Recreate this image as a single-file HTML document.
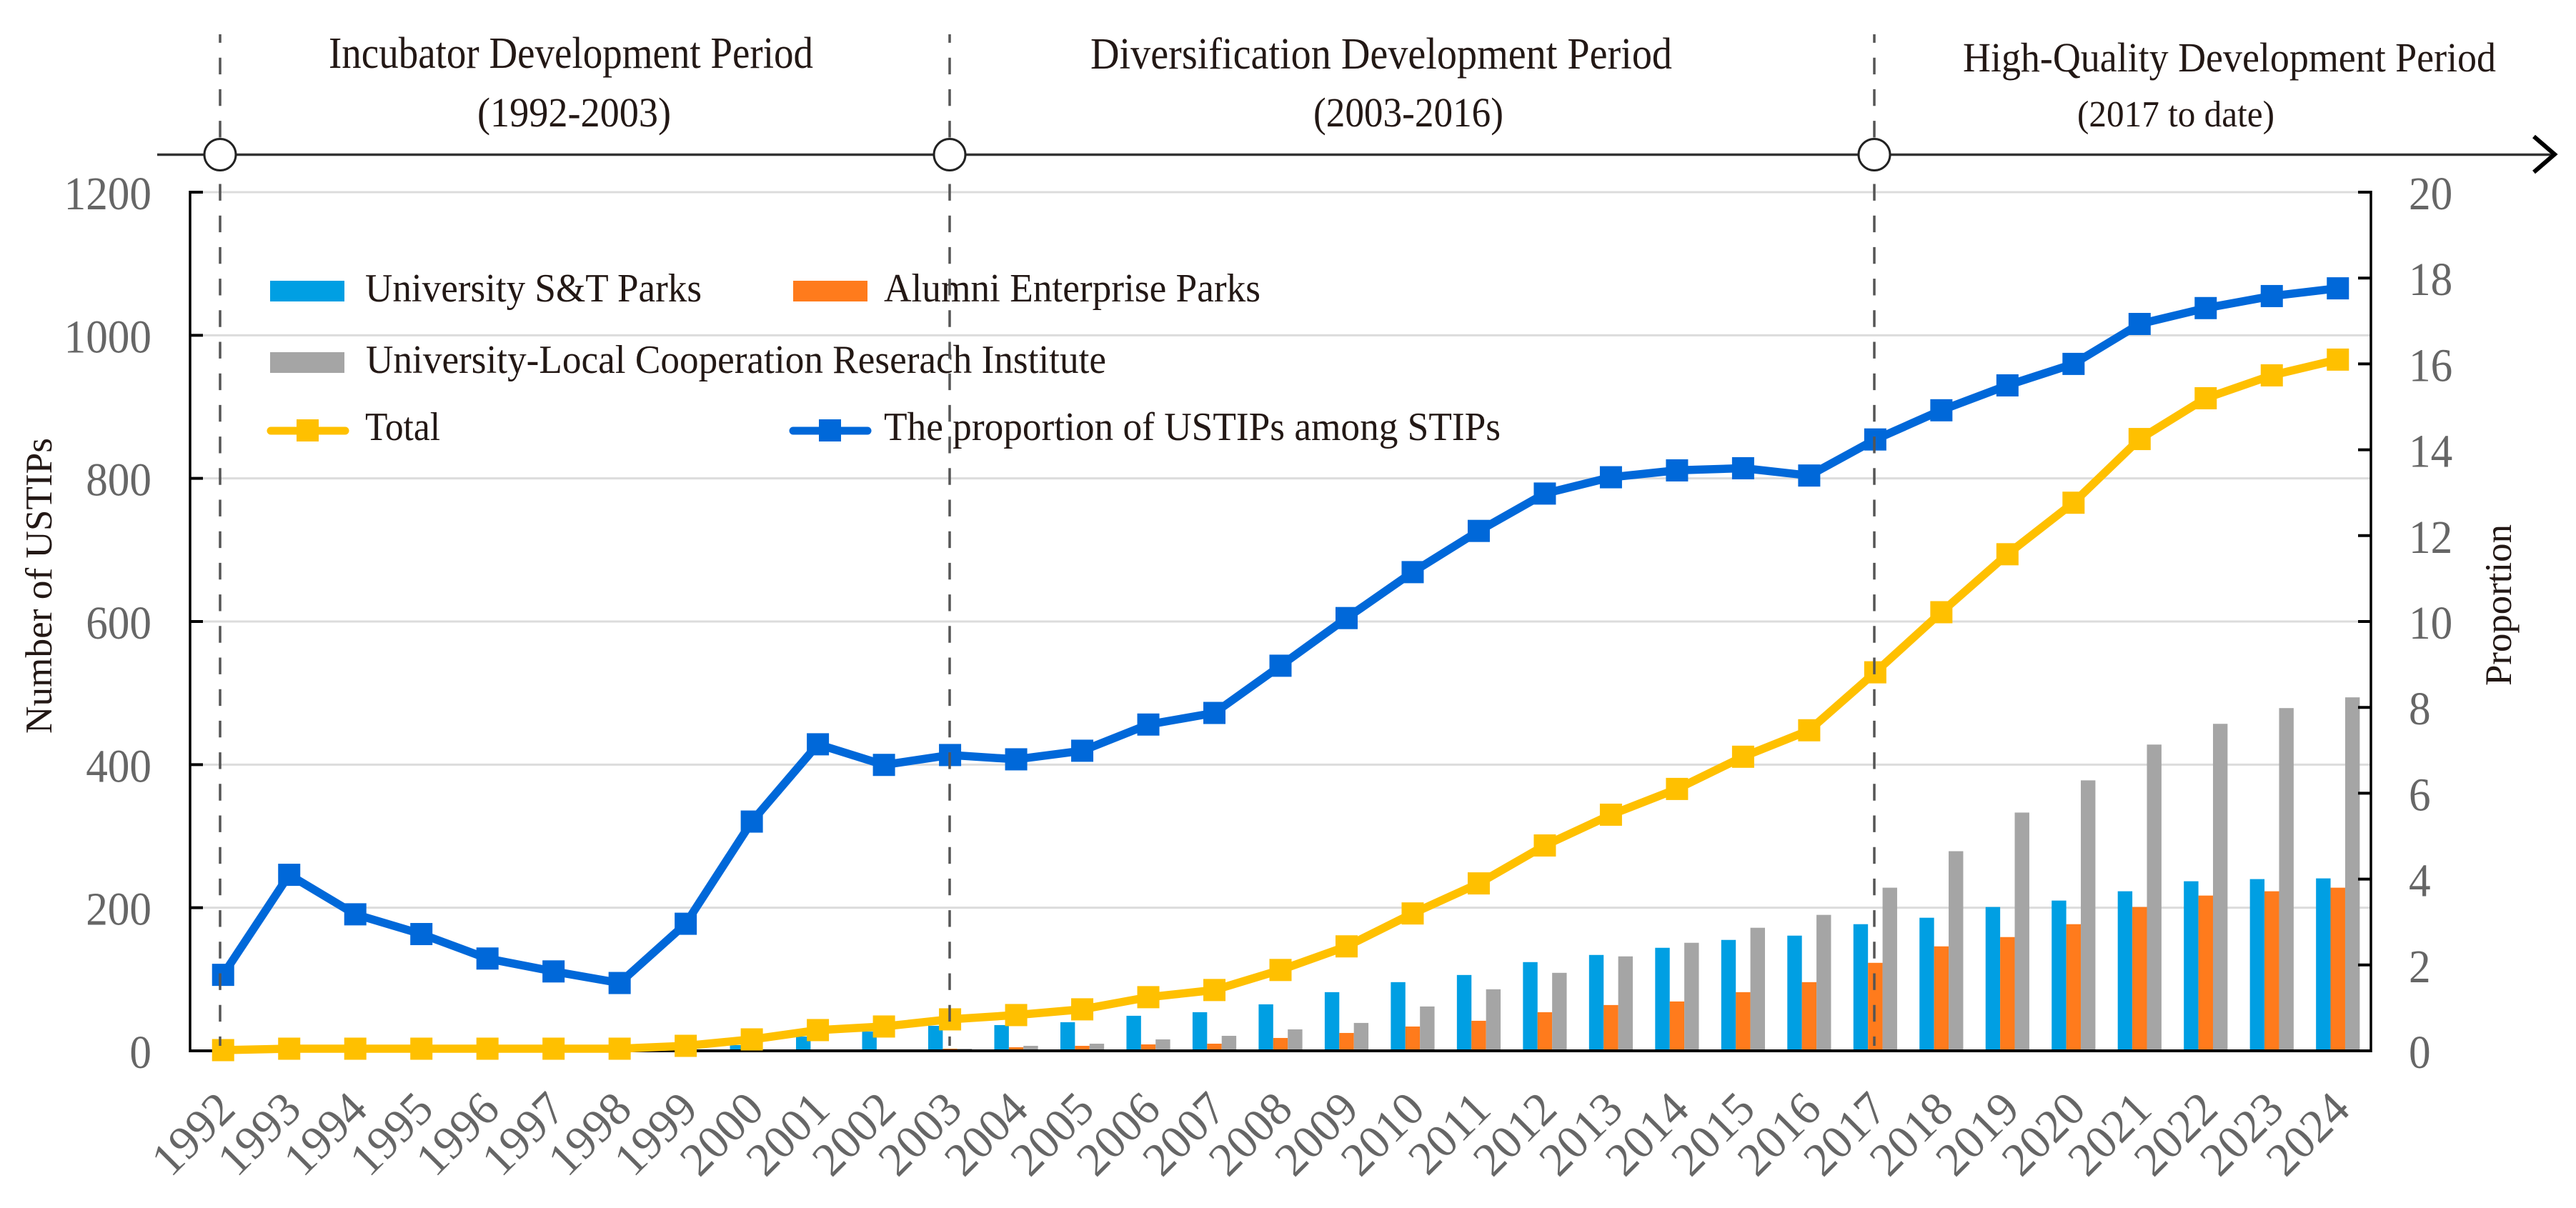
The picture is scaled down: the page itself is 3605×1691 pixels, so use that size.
<!DOCTYPE html>
<html lang="en">
<head>
<meta charset="utf-8">
<title>Number of USTIPs and proportion among STIPs, 1992-2024</title>
<style>
  html, body { margin: 0; padding: 0; background: #fff; }
  svg { display: block; }
  text { font-family: "Liberation Serif", "Noto Serif CJK SC", serif; }
  .period { font-size: 62px; fill: #231815; }
  .period-sub { font-size: 58px; fill: #231815; }
  .legend-text { font-size: 56px; fill: #231815; }
  .axis-title { font-size: 53px; fill: #231815; }
  .tick { font-size: 66px; fill: #666; }
</style>
</head>
<body>
<svg id="chart" xmlns="http://www.w3.org/2000/svg" width="3605" height="1691" viewBox="0 0 3605 1691">
  <rect x="0" y="0" width="3605" height="1691" fill="#fff"/>
  <g id="grid"></g>
  <g id="bars"></g>
  <g id="axes"></g>
  <g id="lines"></g>

  <g>
    <rect x="378" y="393" width="104" height="29" fill="#009fe3"/>
    <text class="legend-text" x="511" y="422" textLength="471" lengthAdjust="spacingAndGlyphs">University S&amp;T Parks</text>
    <rect x="1110" y="393" width="104" height="29" fill="#ff7b1c"/>
    <text class="legend-text" x="1237" y="422" textLength="527" lengthAdjust="spacingAndGlyphs">Alumni Enterprise Parks</text>
    <rect x="378" y="493" width="104" height="29" fill="#a5a5a5"/>
    <text class="legend-text" x="512" y="522" textLength="1036" lengthAdjust="spacingAndGlyphs">University-Local Cooperation Reserach Institute</text>
    <line x1="379" y1="603" x2="483" y2="603" stroke="#ffc000" stroke-width="11" stroke-linecap="round"/>
    <rect x="415" y="587" width="31" height="31" fill="#ffc000"/>
    <text class="legend-text" x="511" y="616" textLength="105" lengthAdjust="spacingAndGlyphs">Total</text>
    <line x1="1110" y1="603" x2="1214" y2="603" stroke="#0068d9" stroke-width="11" stroke-linecap="round"/>
    <rect x="1146" y="587" width="31" height="31" fill="#0068d9"/>
    <text class="legend-text" x="1237" y="616" textLength="863" lengthAdjust="spacingAndGlyphs">The proportion of USTIPs among STIPs</text>
  </g>

  <g>
    <text class="period" x="460" y="95" textLength="678" lengthAdjust="spacingAndGlyphs">Incubator Development Period</text>
    <text class="period-sub" x="668" y="177" textLength="271" lengthAdjust="spacingAndGlyphs">(1992-2003)</text>
    <text class="period" x="1526" y="96" textLength="814" lengthAdjust="spacingAndGlyphs">Diversification Development Period</text>
    <text class="period-sub" x="1838" y="177" textLength="266" lengthAdjust="spacingAndGlyphs">(2003-2016)</text>
    <text class="period" style="font-size:58px" x="2747" y="100" textLength="746" lengthAdjust="spacingAndGlyphs">High-Quality Development Period</text>
    <text class="period-sub" style="font-size:52px" x="2907" y="177" textLength="276" lengthAdjust="spacingAndGlyphs">(2017 to date)</text>
    <line x1="220" y1="216.5" x2="3574" y2="216.5" stroke="#333" stroke-width="3.5"/>
    <polyline points="3546,191 3575,216 3546,241" fill="none" stroke="#000" stroke-width="6"/>
  </g>

  <text class="axis-title" transform="translate(72,1027) rotate(-90)" textLength="414" lengthAdjust="spacingAndGlyphs">Number of USTIPs</text>
  <text class="axis-title" transform="translate(3514,960) rotate(-90)" textLength="226" lengthAdjust="spacingAndGlyphs">Proportion</text>

  <g>
    <line x1="308" y1="48" x2="308" y2="1464" stroke="#555" stroke-width="3.5" stroke-dasharray="23.4 20.8" stroke-dashoffset="11.5"/>
    <line x1="1329" y1="48" x2="1329" y2="1464" stroke="#555" stroke-width="3.5" stroke-dasharray="23.4 20.8" stroke-dashoffset="11.5"/>
    <line x1="2623" y1="48" x2="2623" y2="1464" stroke="#555" stroke-width="3.5" stroke-dasharray="23.4 20.8" stroke-dashoffset="11.5"/>
  </g>
  <g>
    <circle cx="308" cy="216.5" r="22" fill="#fff" stroke="#222" stroke-width="3"/>
    <circle cx="1329" cy="216.5" r="22" fill="#fff" stroke="#222" stroke-width="3"/>
    <circle cx="2623" cy="216.5" r="22" fill="#fff" stroke="#222" stroke-width="3"/>
  </g>
</svg>

<script>
// Chart data
const years = [1992,1993,1994,1995,1996,1997,1998,1999,2000,2001,2002,2003,2004,2005,2006,2007,2008,2009,2010,2011,2012,2013,2014,2015,2016,2017,2018,2019,2020,2021,2022,2023,2024];
const universityParks = [0,0,0,0,0,0,0,1,8,20,27,35,36,40,49,54,65,82,96,106,124,134,144,155,161,177,186,201,210,223,237,240,241];
const alumniParks = [0,0,0,0,0,0,0,0,0,1,2,3,5,7,9,10,18,25,34,42,54,64,69,82,96,123,146,159,177,201,217,223,228];
const cooperationInstitutes = [0,0,0,0,0,0,0,0,0,0,0,3,7,10,16,21,30,39,62,86,109,132,151,172,190,228,279,333,378,428,457,479,494];
const totalParks = [1,3,3,3,3,3,3,7,16,29,34,44,50,58,75,85,113,146,192,234,287,330,366,411,448,529,613,694,766,855,912,944,966];
const proportionValues = [1.77,4.10,3.18,2.72,2.15,1.85,1.58,2.96,5.34,7.14,6.66,6.89,6.79,6.99,7.60,7.87,8.97,10.08,11.15,12.11,12.98,13.36,13.52,13.57,13.40,14.24,14.92,15.50,16.00,16.93,17.30,17.58,17.76];
const leftTicks = [0,200,400,600,800,1000,1200];
const rightTicks = [0,2,4,6,8,10,12,14,16,18,20];

const NS = 'http://www.w3.org/2000/svg';
const plotLeft = 266, plotRight = 3318, plotTop = 269, plotBottom = 1471;
const leftMax = 1200, rightMax = 20;
const band = (plotRight - plotLeft) / years.length;
const barWidth = 20.4;

function xScale(i) { return plotLeft + (i + 0.5) * band; }
function yLeft(v) { return plotBottom - (v / leftMax) * (plotBottom - plotTop); }
function yRight(v) { return plotBottom - (v / rightMax) * (plotBottom - plotTop); }
function make(tag, parent, attrs) {
  const el = document.createElementNS(NS, tag);
  for (const k in attrs) el.setAttribute(k, attrs[k]);
  parent.appendChild(el);
  return el;
}

const gridG = document.getElementById('grid');
const barsG = document.getElementById('bars');
const axesG = document.getElementById('axes');
const linesG = document.getElementById('lines');

// Gridlines and left axis ticks
leftTicks.forEach(function (t) {
  const y = yLeft(t);
  if (t > 0) {
    const g = make('line', gridG, { x1: plotLeft, x2: plotRight, y1: y, y2: y, stroke: '#dcdcdc', 'stroke-width': 3 });
    
    
    const tk = make('line', axesG, { x1: plotLeft, x2: plotLeft + 18, y1: y, y2: y, stroke: '#000', 'stroke-width': 4 });
    
    
  }
  const txt = String(t);
  const lb = make('text', axesG, { x: 212, y: y + 24, 'text-anchor': 'end', class: 'tick', textLength: txt.length * 30.6, lengthAdjust: 'spacingAndGlyphs' });
  
  
  lb.textContent = txt;
});

// Right axis ticks
rightTicks.forEach(function (t) {
  const y = yRight(t);
  if (t > 0) {
    const tk = make('line', axesG, { x1: plotRight - 18, x2: plotRight, y1: y, y2: y, stroke: '#000', 'stroke-width': 4 });
    
    
  }
  const txt = String(t);
  const lb = make('text', axesG, { x: 3371, y: y + 24, 'text-anchor': 'start', class: 'tick', textLength: txt.length * 30.6, lengthAdjust: 'spacingAndGlyphs' });
  
  
  lb.textContent = txt;
});

// Bars
function drawBars(values, offset, color, key) {
  values.forEach(function (v, i) {
    if (v <= 0) return;
    const top = yLeft(v);
    const r = make('rect', barsG, { x: xScale(i) + offset * barWidth - barWidth / 2, y: top, width: barWidth, height: plotBottom - top, fill: color });
    
    
  });
}
drawBars(universityParks, -1, '#009fe3', 'university-parks');
drawBars(alumniParks, 0, '#ff7b1c', 'alumni-parks');
drawBars(cooperationInstitutes, 1, '#a5a5a5', 'cooperation-institutes');

// Axis lines
const leftAxis = make('line', axesG, { x1: plotLeft, x2: plotLeft, y1: plotTop - 2, y2: plotBottom + 2, stroke: '#000', 'stroke-width': 3.5 });


const rightAxis = make('line', axesG, { x1: plotRight, x2: plotRight, y1: plotTop - 2, y2: plotBottom + 2, stroke: '#000', 'stroke-width': 3.5 });


const bottomAxis = make('line', axesG, { x1: plotLeft, x2: plotRight, y1: plotBottom, y2: plotBottom, stroke: '#000', 'stroke-width': 4 });



// Year labels
years.forEach(function (yr, i) {
  const ex = xScale(i) + 20, ey = 1556;
  const lb = make('text', axesG, { x: 0, y: 0, 'text-anchor': 'end', class: 'tick', transform: 'translate(' + ex + ',' + ey + ') rotate(-45)' });
  
  
  lb.textContent = String(yr);
});

// Lines with square markers
function drawLine(values, scale, color, key) {
  const pts = values.map(function (v, i) { return xScale(i).toFixed(1) + ',' + scale(v).toFixed(1); }).join(' ');
  const pl = make('polyline', linesG, { points: pts, fill: 'none', stroke: color, 'stroke-width': 11.5, 'stroke-linejoin': 'round' });
  
  
  values.forEach(function (v, i) {
    const m = make('rect', linesG, { x: xScale(i) - 15.5, y: scale(v) - 15.5, width: 31, height: 31, fill: color });
    
    
  });
}
drawLine(totalParks, yLeft, '#ffc000', 'total');
drawLine(proportionValues, yRight, '#0068d9', 'proportion');
</script>
</body>
</html>
